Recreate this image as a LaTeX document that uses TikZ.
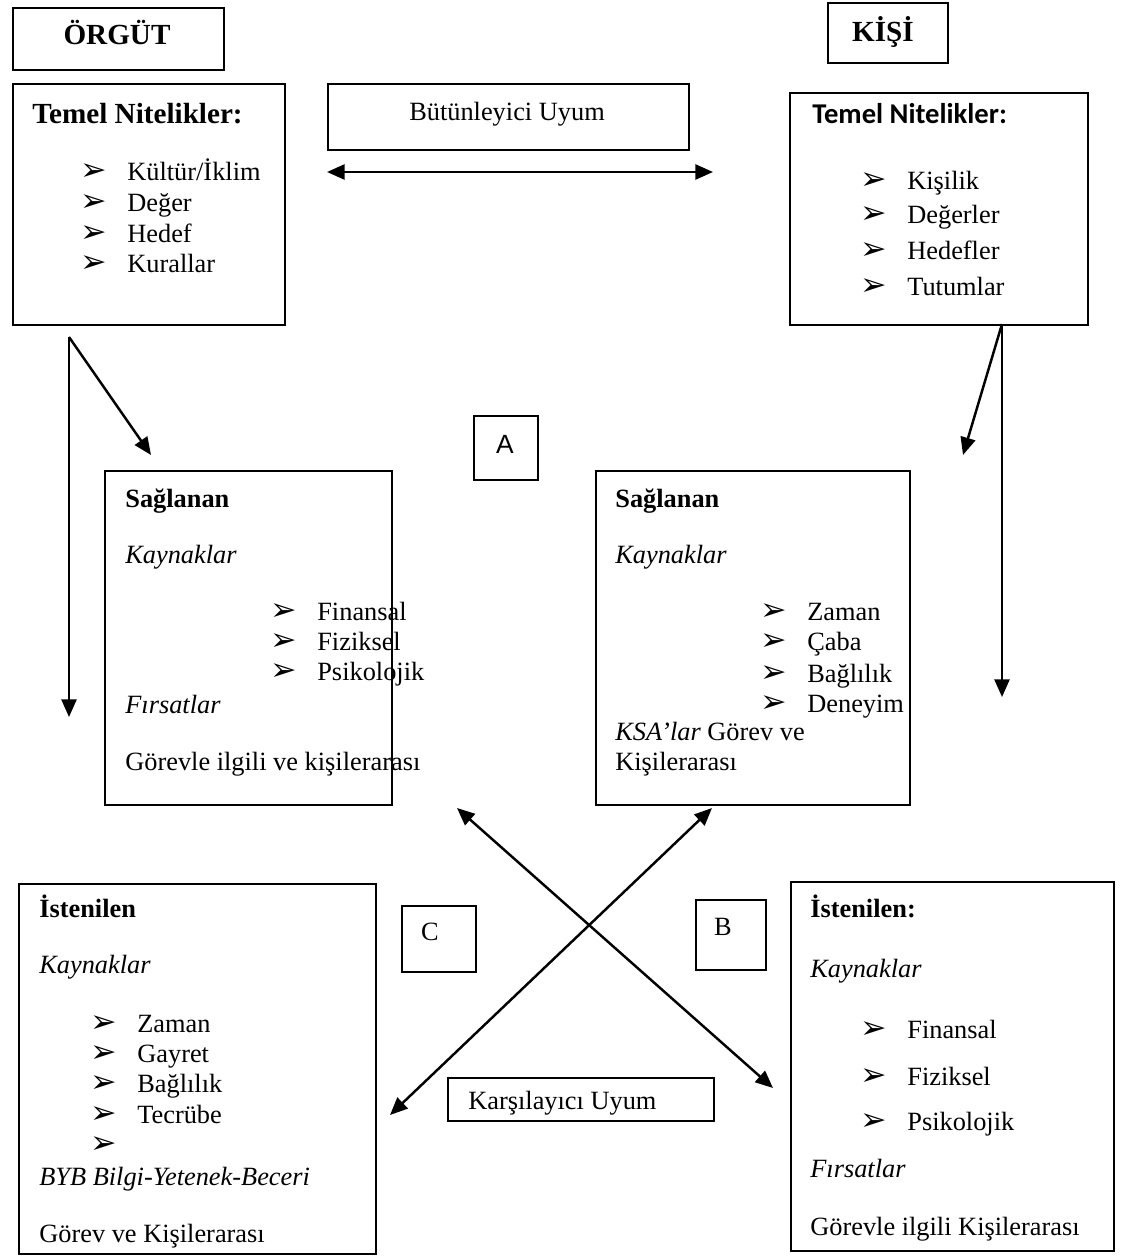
\documentclass[tikz,border=0pt]{standalone}
\usepackage{fontspec}
\setmainfont{Liberation Serif}
\newfontfamily\calibri{Carlito}
\newfontfamily\arial{Liberation Sans}
\newfontfamily\dingfont{DejaVu Sans}
\usetikzlibrary{arrows.meta,calc}

\newcommand{\body}{\fontsize{15pt}{18pt}\selectfont}
\newcommand{\head}{\fontsize{16.6pt}{19pt}\selectfont\bfseries}
\newcommand{\bul}{\makebox[0.94cm][l]{\dingfont\fontsize{18pt}{18pt}\selectfont ➢}}

\begin{document}
\begin{tikzpicture}[x=0.02cm,y=-0.02cm,
  box/.style={draw,line width=0.9pt,inner sep=0pt,anchor=north west},
  txt/.style={anchor=base west,inner sep=0pt,font=\body},
  arr/.style={line width=1.4pt,-{Triangle[length=10pt,width=8.5pt]}},
  darr/.style={line width=1.4pt,{Triangle[length=10pt,width=8.5pt]}-{Triangle[length=10pt,width=8.5pt]}}]
  \useasboundingbox (0,0) rectangle (1130,1257);

  % boxes
  \node[box,minimum width=4.22cm,minimum height=1.24cm] (orgut)     at (12,7)    {};
  \node[box,minimum width=2.40cm,minimum height=1.20cm] (kisi)      at (827,2)   {};
  \node[box,minimum width=5.44cm,minimum height=4.82cm] (orgTemel)  at (12,83)   {};
  \node[box,minimum width=7.22cm,minimum height=1.32cm] (butun)     at (327,83)  {};
  \node[box,minimum width=5.96cm,minimum height=4.64cm] (kisiTemel) at (789,92)  {};
  \node[box,minimum width=1.28cm,minimum height=1.28cm] (boxA)      at (473,415) {};
  \node[box,minimum width=5.74cm,minimum height=6.68cm] (orgSag)    at (104,470) {};
  \node[box,minimum width=6.28cm,minimum height=6.68cm] (kisiSag)   at (595,470) {};
  \node[box,minimum width=7.14cm,minimum height=7.40cm] (orgIst)    at (18,883)  {};
  \node[box,minimum width=6.46cm,minimum height=7.38cm] (kisiIst)   at (790,881) {};
  \node[box,minimum width=1.48cm,minimum height=1.32cm] (boxC)      at (401,905) {};
  \node[box,minimum width=1.40cm,minimum height=1.40cm] (boxB)      at (695,899) {};
  \node[box,minimum width=5.32cm,minimum height=0.86cm] (karsi)     at (447,1077) {};

  % titles
  \node[txt,anchor=base,font=\head] (orgutT) at (117,45) {ÖRGÜT};
  \node[txt,anchor=base,font=\head] (kisiT)  at (883,42) {KİŞİ};
  \node[txt,anchor=base] (butunT) at (507,120) {Bütünleyici Uyum};
  \node[txt,anchor=base,font=\arial\body] (tA) at (505,453) {A};
  \node[txt,anchor=base] (tC) at (430,940) {C};
  \node[txt,anchor=base] (tB) at (723,935) {B};
  \node[txt] (karsiT) at (468,1109) {Karşılayıcı Uyum};

  % orgut temel
  \node[txt,font=\head] (ot0) at (32,123) {Temel Nitelikler:};
  \node[txt] (ot1) at (80,180) {\bul Kültür/İklim};
  \node[txt] (ot2) at (80,211) {\bul Değer};
  \node[txt] (ot3) at (80,242) {\bul Hedef};
  \node[txt] (ot4) at (80,272) {\bul Kurallar};

  % kisi temel
  \node[txt,font=\calibri\fontsize{16.3pt}{19pt}\selectfont\bfseries] (kt0) at (812,124) {Temel Nitelikler:};
  \node[txt] (kt1) at (860,189) {\bul Kişilik};
  \node[txt] (kt2) at (860,223) {\bul Değerler};
  \node[txt] (kt3) at (860,259) {\bul Hedefler};
  \node[txt] (kt4) at (860,295) {\bul Tutumlar};

  % orgut saglanan
  \node[txt] (os0) at (125,507) {\textbf{Sağlanan}};
  \node[txt] (os1) at (125,563) {\textit{Kaynaklar}};
  \node[txt] (os2) at (270,620) {\bul Finansal};
  \node[txt] (os3) at (270,650) {\bul Fiziksel};
  \node[txt] (os4) at (270,680) {\bul Psikolojik};
  \node[txt] (os5) at (125,713) {\textit{Fırsatlar}};
  \node[txt] (os6) at (125,770) {Görevle ilgili ve kişilerarası};

  % kisi saglanan
  \node[txt] (ks0) at (615,507) {\textbf{Sağlanan}};
  \node[txt] (ks1) at (615,563) {\textit{Kaynaklar}};
  \node[txt] (ks2) at (760,620) {\bul Zaman};
  \node[txt] (ks3) at (760,650) {\bul Çaba};
  \node[txt] (ks4) at (760,682) {\bul Bağlılık};
  \node[txt] (ks5) at (760,712) {\bul Deneyim};
  \node[txt] (ks6) at (615,740) {\textit{KSA’lar} Görev ve};
  \node[txt] (ks7) at (615,770) {Kişilerarası};

  % orgut istenilen
  \node[txt] (oi0) at (39,917)  {\textbf{İstenilen}};
  \node[txt] (oi1) at (39,973)  {\textit{Kaynaklar}};
  \node[txt] (oi2) at (90,1032) {\bul Zaman};
  \node[txt] (oi3) at (90,1062) {\bul Gayret};
  \node[txt] (oi4) at (90,1092) {\bul Bağlılık};
  \node[txt] (oi5) at (90,1123) {\bul Tecrübe};
  \node[txt] (oi6) at (90,1153) {\bul};
  \node[txt] (oi7) at (39,1185) {\textit{BYB Bilgi-Yetenek-Beceri}};
  \node[txt] (oi8) at (39,1242) {Görev ve Kişilerarası};

  % kisi istenilen
  \node[txt] (ki0) at (810,917)  {\textbf{İstenilen:}};
  \node[txt] (ki1) at (810,977)  {\textit{Kaynaklar}};
  \node[txt] (ki2) at (860,1038) {\bul Finansal};
  \node[txt] (ki3) at (860,1085) {\bul Fiziksel};
  \node[txt] (ki4) at (860,1130) {\bul Psikolojik};
  \node[txt] (ki5) at (810,1177) {\textit{Fırsatlar}};
  \node[txt] (ki6) at (810,1235) {Görevle ilgili Kişilerarası};

  % arrow ends
  \coordinate (lTop)  at (69,337);
  \coordinate (lBot)  at (69,717);
  \coordinate (lDiag) at (151,455);
  \coordinate (rTop)  at (1002,324);
  \coordinate (rBot)  at (1002,697);
  \coordinate (rDiag) at (963,455);
  \coordinate (bL)    at (327,172);
  \coordinate (bR)    at (713,172);
  \coordinate (xAa)   at (457,808);
  \coordinate (xAb)   at (773,1088);
  \coordinate (xBa)   at (712,808);
  \coordinate (xBb)   at (390,1115);

  \draw[arr]  (lTop) -- (lBot);
  \draw[arr]  (lTop) -- (lDiag);
  \draw[arr]  (rTop) -- (rBot);
  \draw[arr]  (rTop) -- (rDiag);
  \draw[darr] (bL) -- (bR);
  \draw[darr] (xAa) -- (xAb);
  \draw[darr] (xBa) -- (xBb);
\end{tikzpicture}
\end{document}
